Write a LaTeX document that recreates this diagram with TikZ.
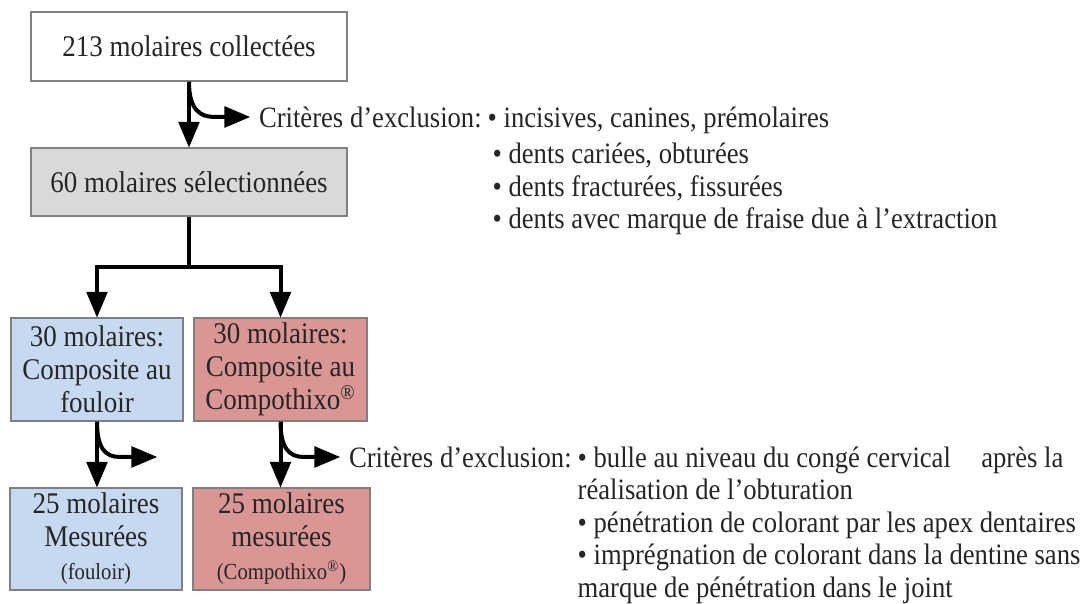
\documentclass[tikz,border=0pt]{standalone}
\usepackage{fontspec}
\setmainfont{Liberation Serif}[FakeStretch=0.9]
\usetikzlibrary{arrows}
\definecolor{boxblue}{RGB}{198,217,241}
\definecolor{boxred}{RGB}{217,150,148}
\definecolor{boxgray}{RGB}{217,217,217}
\definecolor{boxline}{RGB}{128,128,128}

\begin{document}
\begin{tikzpicture}[x=0.5pt,y=0.5pt,->,>=triangle 45,line width=2pt,
  box/.style={draw=boxline,line width=0.6pt,align=center,inner sep=2pt,text=black!85,font=\fontsize{15}{16.5}\selectfont},
  crit/.style={align=left,inner sep=3.5pt,text=black!85,font=\fontsize{14.8}{16.3}\selectfont}]
  \useasboundingbox (0,0) rectangle (1089,604);

  \node[box,fill=white,minimum width=158pt,minimum height=34.5pt] (collect) at (189,557.5) {213 molaires collectées};
  \node[box,fill=boxgray,minimum width=158pt,minimum height=34pt] (select) at (189,422) {60 molaires sélectionnées};
  \node[box,fill=boxblue,minimum width=86pt,minimum height=51.5pt] (fouloir) at (97,234.5) {30 molaires:\\Composite au\\fouloir};
  \node[box,fill=boxred,minimum width=86.5pt,minimum height=51.5pt] (thixo) at (280.5,234.5) {30 molaires:\\Composite au\\Compothixo\textsuperscript{®}};
  \node[box,fill=boxblue,minimum width=86pt,minimum height=51pt] (mesF) at (96,65) {25 molaires\\Mesurées\\{\fontsize{11.5}{13}\selectfont(fouloir)}};
  \node[box,fill=boxred,minimum width=88.5pt,minimum height=51pt] (mesT) at (281.5,65) {25 molaires\\mesurées\\{\fontsize{11.5}{13}\selectfont(Compothixo\textsuperscript{®})}};

  \node[crit,anchor=west] (crit1) at (250,487) {Critères d’exclusion:};
  \node[crit,anchor=north west,inner xsep=0pt] (list1) at ([xshift=-2.5pt]crit1.north east) {• incisives, canines, prémolaires\\[2pt]
    \,• dents cariées, obturées\\
    \,• dents fracturées, fissurées\\
    \,• dents avec marque de fraise due à l’extraction};
  \node[crit,anchor=west] (crit2) at (340,147) {Critères d’exclusion:};
  \node[crit,anchor=north west,inner xsep=0pt] (list2) at ([xshift=-2.5pt]crit2.north east) {• bulle au niveau du congé cervical\hspace{0.8em} après la\\
    réalisation de l’obturation\\
    • pénétration de colorant par les apex dentaires\\
    • imprégnation de colorant dans la dentine sans\\
    marque de pénétration dans le joint};

  \coordinate (split) at (189,337);
  \coordinate (endF) at (157,147);

  \path (collect) edge (select);
  \draw[-] (select) -- (split);
  \draw (split) -| (fouloir);
  \draw (split) -| (thixo);
  \draw (fouloir.south) -- (fouloir.south |- mesF.north);
  \draw (thixo.south) -- (thixo.south |- mesT.north);

  % exclusion branches
  \draw (collect.south) .. controls (189,494) and (200,487) .. (215,487) -- (crit1.west);
  \draw (fouloir.south) .. controls (97,156) and (105,147) .. (120,147) -- (endF);
  \draw (thixo.south) .. controls (280.5,156) and (289,147) .. (304,147) -- (crit2.west);
\end{tikzpicture}
\end{document}
